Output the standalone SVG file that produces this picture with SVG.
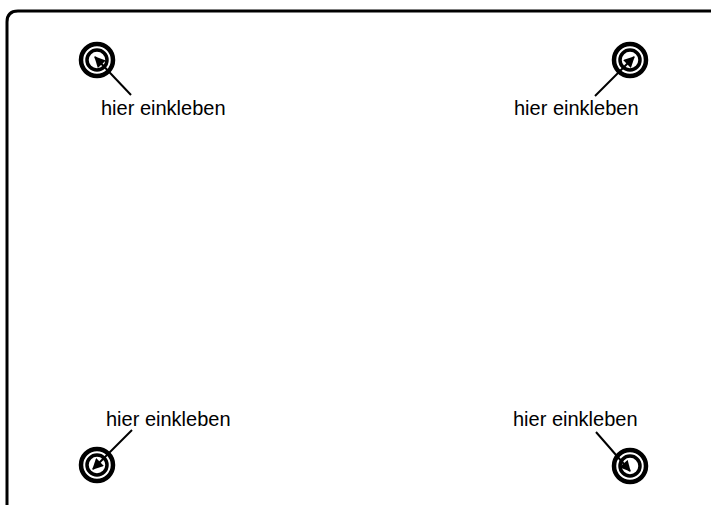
<svg xmlns="http://www.w3.org/2000/svg" width="711" height="505" viewBox="0 0 711 505">
<style>
.frame{fill:none;stroke:#000;stroke-width:3}
.ring-o{fill:none;stroke:#000;stroke-width:4.5}
.ring-i{fill:none;stroke:#000;stroke-width:3.5}
.lead{fill:none;stroke:#000;stroke-width:2;marker-end:url(#ah)}
.lbl{font-family:"Liberation Sans",Arial,sans-serif;font-size:20px;fill:#000}
</style>
<defs>
<marker id="ah" viewBox="0 0 10 10" refX="9" refY="5" markerWidth="6" markerHeight="5.5" markerUnits="strokeWidth" orient="auto">
<path d="M0,0 L10,5 L0,10 z" fill="#000"/>
</marker>
</defs>
<rect width="711" height="505" fill="#fff"/>
<path class="frame" d="M7,510 V22 Q7,11 18,11 H720"/>
<g id="mark-tl">
<circle class="ring-o" cx="97" cy="60" r="16"/>
<circle class="ring-i" cx="97" cy="60" r="10"/>
<text class="lbl" x="101" y="115">hier einkleben</text>
</g>
<g id="mark-tr">
<circle class="ring-o" cx="630" cy="60" r="16"/>
<circle class="ring-i" cx="630" cy="60" r="10"/>
<text class="lbl" x="514" y="115">hier einkleben</text>
</g>
<g id="mark-bl">
<circle class="ring-o" cx="97" cy="465" r="16"/>
<circle class="ring-i" cx="97" cy="465" r="10"/>
<text class="lbl" x="106" y="426">hier einkleben</text>
</g>
<g id="mark-br">
<circle class="ring-o" cx="630" cy="466" r="16"/>
<circle class="ring-i" cx="630" cy="466" r="10"/>
<text class="lbl" x="513" y="426">hier einkleben</text>
</g>
<g id="connectors">
<line class="lead" x1="131" y1="95" x2="95" y2="57"/>
<line class="lead" x1="595" y1="96" x2="634" y2="57"/>
<line class="lead" x1="132" y1="430" x2="93" y2="469"/>
<line class="lead" x1="596" y1="432" x2="630" y2="471"/>
</g>
</svg>
